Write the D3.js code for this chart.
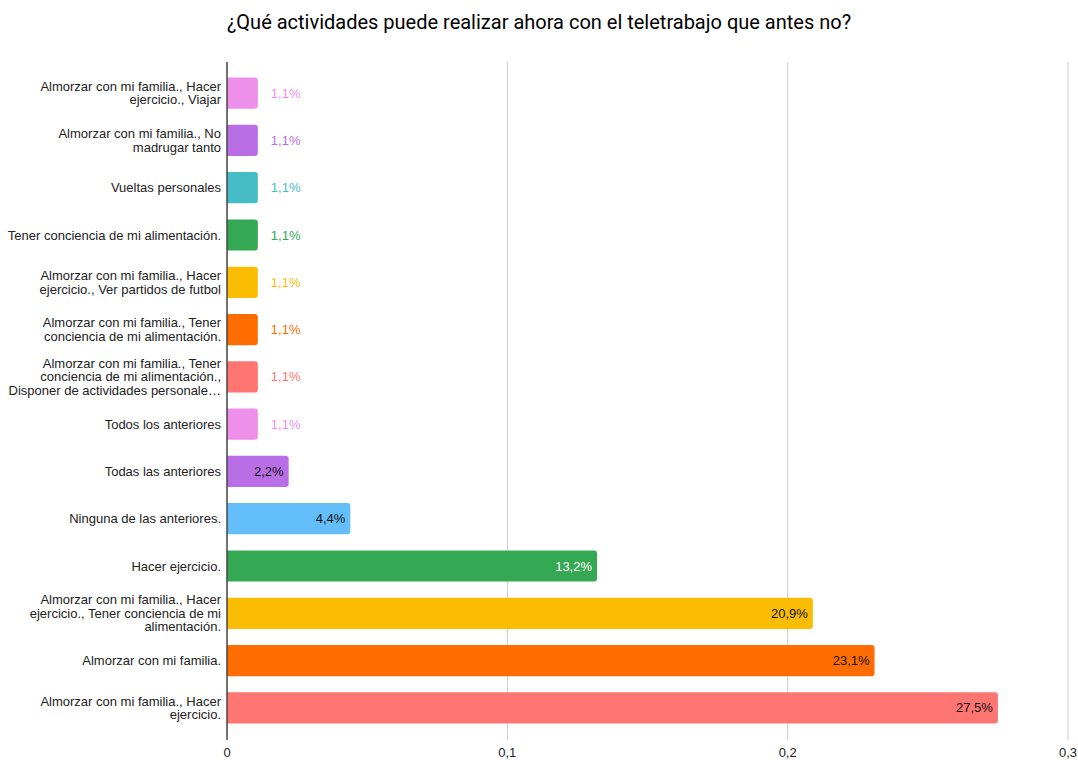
<!DOCTYPE html>
<meta charset="utf-8">
<style>
body { margin: 0; background: #fff; }
.title { font-family: Roboto, "Liberation Sans", sans-serif; font-size: 20px; fill: #000; }
.cat text { font-family: "Liberation Sans", Arial, sans-serif; font-size: 13px; fill: #222; }
.axis--x text { font-family: "Liberation Sans", Arial, sans-serif; font-size: 13px; fill: #222; }
.val { font-family: "Liberation Sans", Arial, sans-serif; font-size: 13px; }
</style>
<body>
<script src="https://d3js.org/d3.v7.min.js"></script>
<script>

// categories, top to bottom (lines as they wrap in the chart)
var categories = [
  ["Almorzar con mi familia., Hacer", "ejercicio., Viajar"],
  ["Almorzar con mi familia., No", "madrugar tanto"],
  ["Vueltas personales"],
  ["Tener conciencia de mi alimentación."],
  ["Almorzar con mi familia., Hacer", "ejercicio., Ver partidos de futbol"],
  ["Almorzar con mi familia., Tener", "conciencia de mi alimentación."],
  ["Almorzar con mi familia., Tener", "conciencia de mi alimentación.,", "Disponer de actividades personale…"],
  ["Todos los anteriores"],
  ["Todas las anteriores"],
  ["Ninguna de las anteriores."],
  ["Hacer ejercicio."],
  ["Almorzar con mi familia., Hacer", "ejercicio., Tener conciencia de mi", "alimentación."],
  ["Almorzar con mi familia."],
  ["Almorzar con mi familia., Hacer", "ejercicio."]
];
var values = [0.011, 0.011, 0.011, 0.011, 0.011, 0.011, 0.011, 0.011, 0.022, 0.044, 0.132, 0.209, 0.231, 0.275];
var colors = ["#ee8fea", "#b96ee6", "#46bdc6", "#34a853", "#fbbc04", "#ff6d01", "#ff7572",
              "#ee8fea", "#b96ee6", "#63bef9", "#34a853", "#fbbc04", "#ff6d01", "#ff7572"];
var labelColors = [null, null, null, null, null, null, null, null, "#111", "#111", "#fff", "#111", "#111", "#111"];
var xTicks = [0, 0.1, 0.2, 0.3];

var margin = {top: 62, left: 227, right: 10},
    width = 1068 - margin.left,
    plotTop = 62, plotBottom = 740;

var svg = d3.select("body").append("svg")
    .attr("width", 1078)
    .attr("height", 760);

svg.append("text")
    .attr("class", "title")
    .attr("x", 539)
    .attr("y", 29)
    .attr("text-anchor", "middle")
    .text("¿Qué actividades puede realizar ahora con el teletrabajo que antes no?");

var x = d3.scaleLinear().domain([0, 0.3]).range([0, width]);
var y = d3.scaleBand()
    .domain(d3.range(values.length))
    .range([69.5, 731.5])
    .paddingInner(0.34)
    .paddingOuter(0.17);

var g = svg.append("g").attr("transform", "translate(" + margin.left + ",0)");

// grid
g.append("g").selectAll("line")
  .data(xTicks.slice(1))
  .enter().append("line")
    .attr("x1", function(d) { return x(d); })
    .attr("x2", function(d) { return x(d); })
    .attr("y1", plotTop)
    .attr("y2", plotBottom)
    .attr("stroke", "#cccccc")
    .attr("stroke-width", 1);

// x axis labels
var fmt = function(d) { return d === 0 ? "0" : d3.format(".1f")(d).replace(".", ","); };
g.append("g")
    .attr("class", "axis axis--x")
  .selectAll("text")
  .data(xTicks)
  .enter().append("text")
    .attr("x", function(d) { return x(d); })
    .attr("y", 757)
    .attr("text-anchor", "middle")
    .text(fmt);

// bars: rounded right end
function barPath(w, h, r) {
  r = Math.min(r, w);
  return "M0,0H" + (w - r) + "Q" + w + ",0 " + w + "," + r +
         "V" + (h - r) + "Q" + w + "," + h + " " + (w - r) + "," + h + "H0Z";
}

g.append("g").selectAll("path")
  .data(values)
  .enter().append("path")
    .attr("transform", function(d, i) { return "translate(0," + y(i) + ")"; })
    .attr("d", function(d) { return barPath(x(d), y.bandwidth(), 3); })
    .attr("fill", function(d, i) { return colors[i]; });

// value labels
var pct = function(d) { return d3.format(".1f")(d * 100).replace(".", ",") + "%"; };
g.append("g").selectAll("text")
  .data(values)
  .enter().append("text")
    .attr("class", "val")
    .attr("x", function(d, i) { return labelColors[i] ? x(d) - 5 : x(d) + 13; })
    .attr("y", function(d, i) { return y(i) + y.bandwidth() / 2; })
    .attr("dy", "0.35em")
    .attr("text-anchor", function(d, i) { return labelColors[i] ? "end" : "start"; })
    .attr("fill", function(d, i) { return labelColors[i] || colors[i]; })
    .text(pct);

// category labels
var lineH = 13.5;
var cat = g.append("g").attr("class", "cat").selectAll("text")
  .data(categories)
  .enter().append("text")
    .attr("text-anchor", "end")
    .attr("y", function(d, i) { return y(i) + y.bandwidth() / 2 - (d.length - 1) * lineH / 2; });
cat.selectAll("tspan")
  .data(function(d) { return d; })
  .enter().append("tspan")
    .attr("x", -6)
    .attr("dy", function(d, i) { return i === 0 ? "0.35em" : lineH; })
    .text(function(d) { return d; });

// y axis line
g.append("line")
    .attr("x1", 0).attr("x2", 0)
    .attr("y1", plotTop).attr("y2", plotBottom)
    .attr("stroke", "#444")
    .attr("stroke-width", 1.5);

</script>
